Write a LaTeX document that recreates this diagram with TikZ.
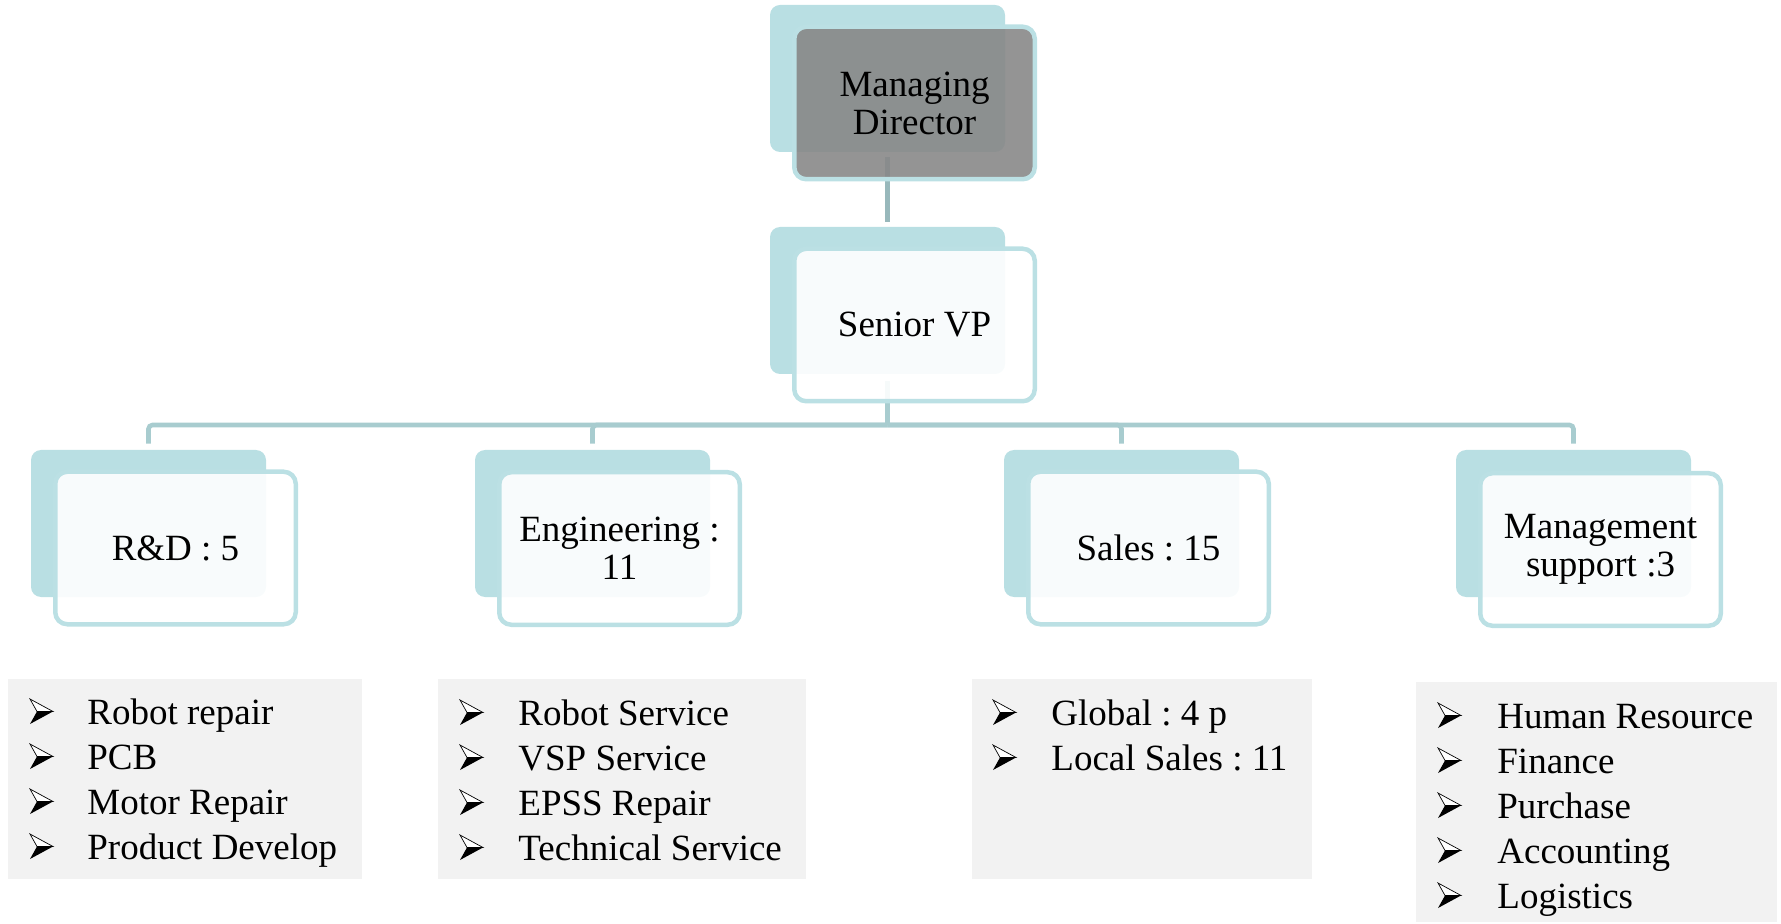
\documentclass[tikz,border=0pt]{standalone}
\usepackage{fontspec}
\setmainfont{Liberation Serif}
\frenchspacing

\definecolor{backteal}{RGB}{185,223,227}
\definecolor{frameteal}{RGB}{187,224,228}
\definecolor{linkteal}{RGB}{168,204,207}
\definecolor{linkdark}{RGB}{152,184,187}
\definecolor{headgray}{RGB}{136,136,136}
\definecolor{listgray}{RGB}{242,242,242}

\tikzset{
  backbox/.style={rectangle, rounded corners=5pt, fill=backteal,
    minimum width=117.5pt, minimum height=73.5pt, inner sep=0pt},
  frontbox/.style={rectangle, rounded corners=6pt, draw=frameteal, line width=2.25pt,
    fill=white, fill opacity=0.9, text opacity=1,
    minimum width=120.25pt, minimum height=76.25pt, inner sep=0pt, align=center,
    font=\fontsize{18.5pt}{19pt}\selectfont},
  headbox/.style={frontbox, fill=headgray},
  link/.style={draw=linkteal, line width=2.3pt, rounded corners=2pt},
  listbox/.style={rectangle, fill=listgray, inner sep=0pt, anchor=north west},
  listitem/.style={anchor=base west, inner sep=0pt,
    font=\fontsize{18.5pt}{22.5pt}\selectfont},
  pics/arrowbullet/.style={code={
    \fill[black] (7,-12.5) -- (23,-12.5) -- (0,0) -- cycle;
    \filldraw[fill=white, draw=black, line width=0.35pt]
      (0,-25) -- (23,-12.5) -- (7,-12.5) -- cycle;
  }}
}

\begin{document}
\begin{tikzpicture}[x=0.5pt, y=-0.5pt]
\useasboundingbox (0,0) rectangle (1781,924);

% ---- detail lists under each department ----
\node[listbox, minimum width=177pt, minimum height=100pt] (rdlist) at (8,679) {};
\node[listbox, minimum width=184pt, minimum height=100pt] (englist) at (438,679) {};
\node[listbox, minimum width=170pt, minimum height=100pt] (saleslist) at (972,679) {};
\node[listbox, minimum width=180.5pt, minimum height=120pt] (mgmtlist) at (1416,682) {};

\foreach \t [count=\i] in {Robot repair, PCB, Motor Repair, Product Develop} {
  \pic at (30,{724+45*(\i-1)}) {arrowbullet};
  \node[listitem] (rd-\i) at (87,{724+45*(\i-1)}) {\t};
}
\foreach \t [count=\i] in {Robot Service, VSP Service, EPSS Repair, Technical Service} {
  \pic at (460,{725+45*(\i-1)}) {arrowbullet};
  \node[listitem] (eng-\i) at (518,{725+45*(\i-1)}) {\t};
}
\foreach \t [count=\i] in {Global : 4 p, Local Sales : 11} {
  \pic at (993,{725+45*(\i-1)}) {arrowbullet};
  \node[listitem] (sales-\i) at (1051,{725+45*(\i-1)}) {\t};
}
\foreach \t [count=\i] in {Human Resource, Finance, Purchase, Accounting, Logistics} {
  \pic at (1438,{728+45*(\i-1)}) {arrowbullet};
  \node[listitem] (mgmt-\i) at (1497,{728+45*(\i-1)}) {\t};
}

% ---- shadow plates behind each box ----
\node[backbox] (mdback) at (887.5,78.5) {};
\node[backbox] (svpback) at (887.5,300.5) {};
\node[backbox] (rdback) at (148.5,523.5) {};
\node[backbox] (engback) at (592.5,523.5) {};
\node[backbox] (salesback) at (1121.5,523.5) {};
\node[backbox] (mgmtback) at (1573.5,523.5) {};

% ---- connectors ----
\draw[link, draw=linkdark, shorten <=2.5pt, shorten >=2.5pt] (mdback.south) -- (svpback.north);
\coordinate (bus) at (887.5,425);
\draw[link, shorten <=3.5pt] (svpback.south) -- (bus);
\foreach \c in {rdback, engback, salesback, mgmtback}
  \draw[link, shorten >=3pt] (bus) -| (\c.north);

% ---- labelled boxes ----
\node[headbox] (md) at (914.5,103) {Managing\\Director};
\node[frontbox] (svp) at (914.5,325) {Senior VP};
\node[frontbox] (rd) at (175.5,548) {R\&D : 5};
\node[frontbox] (eng) at (619.5,548.5) {Engineering :\\11};
\node[frontbox] (sales) at (1148.5,548) {Sales : 15};
\node[frontbox] (mgmt) at (1600.5,549.5) {Management\\support :3};
\end{tikzpicture}
\end{document}
